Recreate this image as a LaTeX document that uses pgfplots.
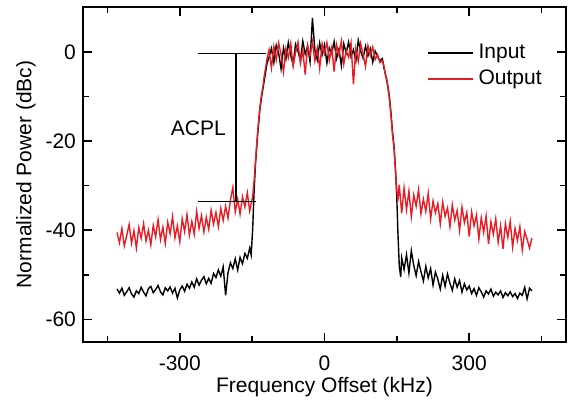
\documentclass[border=0pt]{standalone}
\usepackage{fontspec}
\setmainfont{Liberation Sans}
\usepackage{pgfplots}
\pgfplotsset{compat=1.18}
\definecolor{outred}{RGB}{232,28,36}

\begin{document}
\fontsize{10.5}{12.6}\selectfont
\begin{tikzpicture}
\begin{axis}[
  scale only axis,
  width=241.2pt, height=167.2pt,
  xmin=-500, xmax=500, ymin=-65, ymax=10,
  xtick={-300,0,300}, minor xtick={-450,-150,150,450},
  ytick={-60,-40,-20,0}, minor ytick={-50,-30,-10},
  tick align=inside, major tick length=4.5pt, minor tick length=3pt,
  tick style={line width=0.8pt, black},
  axis line style={line width=0.9pt},
  /pgf/number format/assume math mode=true,
  ticklabel style={font=\fontsize{10.5}{12}\selectfont},
  xticklabel style={yshift=-3.3pt},
  xlabel={Frequency Offset (kHz)},
  ylabel={Normalized Power (dBc)},
  label style={font=\fontsize{10.5}{12}\selectfont},
  xlabel style={at={(axis description cs:0.5,-0.1346)}, anchor=center},
  ylabel style={at={(axis description cs:-0.1188,0.5)}, anchor=center},
  legend style={at={(axis description cs:0.712,0.824)}, anchor=west,
    draw=none, fill=none, inner sep=0pt, row sep=2pt, column sep=2.5pt,
    nodes={inner sep=0pt, text height=8pt, text depth=3pt},
    font=\fontsize{10.5}{12}\selectfont},
  legend cell align=left,
  legend image code/.code={\draw[#1] (0pt,0pt) -- (22.5pt,0pt);},
]
% Input
\addplot[black, line width=0.7pt] coordinates {
(-430,-53.2) (-425,-54.1) (-420,-53.0) (-415,-54.6) (-410,-53.8) (-405,-52.9) (-400,-54.3) (-395,-55.0)
(-390,-53.6) (-385,-54.2) (-380,-52.8) (-375,-53.9) (-370,-54.7) (-365,-53.1) (-360,-52.6) (-355,-54.0)
(-350,-53.3) (-345,-52.4) (-340,-53.8) (-335,-54.5) (-330,-52.9) (-325,-53.6) (-320,-52.7) (-315,-54.1)
(-310,-53.0) (-305,-55.2) (-300,-53.4) (-295,-52.5) (-290,-53.7) (-285,-52.1) (-280,-53.0) (-275,-51.6)
(-270,-52.8) (-265,-50.9) (-260,-52.3) (-255,-51.2) (-250,-50.4) (-245,-52.0) (-240,-50.8) (-235,-51.9)
(-230,-49.7) (-225,-50.6) (-220,-48.9) (-215,-50.3) (-210,-48.2) (-205,-54.6) (-200,-49.5) (-195,-47.3)
(-190,-48.6) (-185,-46.4) (-180,-48.9) (-175,-46.1) (-170,-47.5) (-165,-45.2) (-160,-46.3) (-155,-44.0)
(-152,-45.5) (-149,-40.0) (-146,-31.5) (-143,-25.0) (-140,-20.5) (-137,-16.5) (-134,-13.0) (-131,-10.5)
(-128,-8.5) (-125,-6.5) (-122,-4.5) (-119,-2.5)
(-115,-1.2) (-110,0.8) (-105,-2.4) (-100,1.5) (-95,-0.3) (-90,-3.8) (-85,0.9) (-80,-1.6)
(-75,2.1) (-70,-0.8) (-65,-2.9) (-60,1.7) (-55,0.2) (-50,-1.9) (-45,2.4) (-40,-0.5)
(-35,1.2) (-30,-2.2) (-25,7.6) (-20,0.4) (-15,-1.8) (-10,2.0) (-5,-0.7) (0,1.6)
(5,-2.5) (10,0.9) (15,-0.4) (20,2.3) (25,-1.5) (30,0.6) (35,-3.1) (40,1.8)
(45,-0.2) (50,2.2) (55,-1.1) (60,0.5) (65,-2.0) (70,2.6) (75,0.1) (80,-1.4)
(85,1.3) (90,-0.9) (95,0.7) (100,-2.3) (105,0.2) (110,-1.0) (115,-2.0)
(120,-1.5) (123,-3.5) (126,-4.8) (129,-6.5) (132,-8.0) (135,-10.5) (138,-14.0) (141,-18.0)
(144,-21.0) (147,-26.0) (150,-33.0) (152,-40.0) (155,-48.0) (158,-50.5)
(160,-46.2) (165,-48.8) (170,-45.5) (175,-49.6) (180,-44.6) (185,-47.9) (190,-50.2) (195,-47.0)
(200,-49.3) (205,-51.4) (210,-48.1) (215,-50.7) (220,-48.6) (225,-52.3) (230,-49.4) (235,-51.0)
(240,-53.2) (245,-50.1) (250,-52.6) (255,-49.8) (260,-51.9) (265,-53.5) (270,-50.9) (275,-52.8)
(280,-51.3) (285,-53.9) (290,-52.0) (295,-53.4) (300,-52.5) (305,-54.2) (310,-53.1) (315,-54.6)
(320,-52.9) (325,-53.8) (330,-55.0) (335,-53.6) (340,-54.3) (345,-53.2) (350,-54.8) (355,-53.9)
(360,-54.5) (365,-53.6) (370,-55.1) (375,-54.0) (380,-54.7) (385,-53.8) (390,-54.9) (395,-54.2)
(400,-55.3) (405,-54.1) (410,-54.6) (415,-52.8) (420,-55.4) (425,-53.0) (430,-53.6)
};
\addlegendentry{Input}
% Output
\addplot[outred, line width=0.7pt] coordinates {
(-430,-40.5) (-425,-42.8) (-420,-39.6) (-415,-43.5) (-410,-41.2) (-405,-38.7) (-400,-42.9) (-395,-40.1)
(-390,-44.0) (-385,-39.4) (-380,-41.8) (-375,-38.5) (-370,-42.4) (-365,-40.0) (-360,-43.3) (-355,-38.9)
(-350,-41.5) (-345,-37.6) (-340,-42.1) (-335,-39.3) (-330,-43.0) (-325,-38.2) (-320,-40.8) (-315,-36.9)
(-310,-41.7) (-305,-39.0) (-300,-42.6) (-295,-37.4) (-290,-40.3) (-285,-36.5) (-280,-41.1) (-275,-38.0)
(-270,-40.9) (-265,-35.8) (-260,-39.6) (-255,-36.7) (-250,-40.4) (-245,-37.1) (-240,-39.8) (-235,-35.5)
(-230,-38.6) (-225,-36.0) (-220,-39.2) (-215,-35.1) (-210,-37.8) (-205,-34.6) (-200,-37.3) (-195,-33.2)
(-190,-30.4) (-185,-35.9) (-180,-33.0) (-175,-36.4) (-170,-32.5) (-165,-34.8) (-160,-31.6) (-155,-35.7)
(-152,-34.0) (-149,-32.5) (-146,-29.0) (-143,-24.5) (-140,-20.0) (-137,-16.0) (-134,-12.5) (-131,-10.0)
(-128,-8.0) (-125,-5.5) (-122,-3.5) (-119,-1.5)
(-115,0.5) (-110,-3.6) (-105,1.2) (-100,-1.8) (-95,2.0) (-90,-0.6) (-85,-4.5) (-80,0.8)
(-75,-1.3) (-70,1.9) (-65,-3.2) (-60,-0.2) (-55,2.2) (-50,-2.6) (-45,0.4) (-40,-5.1)
(-35,1.5) (-30,-0.9) (-25,2.3) (-20,-2.0) (-15,0.9) (-10,-3.7) (-5,1.8) (0,-0.4)
(5,2.1) (10,-1.9) (15,1.0) (20,-4.4) (25,1.6) (30,-0.7) (35,2.4) (40,-2.7)
(45,0.3) (50,-1.2) (55,2.0) (60,-7.3) (65,0.8) (70,-2.1) (75,1.9) (80,-0.5)
(85,-3.3) (90,1.4) (95,-0.8) (100,1.1) (105,-1.7) (110,-0.6) (115,-2.4)
(120,-2.0) (123,-3.0) (126,-5.0) (129,-6.0) (132,-8.5) (135,-11.0) (138,-14.5) (141,-18.5)
(144,-21.5) (147,-26.5) (150,-31.0)
(152,-33.5) (155,-29.8) (160,-36.2) (165,-30.5) (170,-35.4) (175,-31.2) (180,-37.0) (185,-32.1)
(190,-34.6) (195,-30.9) (200,-36.3) (205,-33.0) (210,-35.8) (215,-31.7) (220,-37.5) (225,-33.4)
(230,-36.1) (235,-34.0) (240,-38.6) (245,-33.7) (250,-36.9) (255,-35.0) (260,-39.2) (265,-34.3)
(270,-37.7) (275,-35.6) (280,-40.1) (285,-34.8) (290,-38.3) (295,-36.0) (300,-41.4) (305,-35.9)
(310,-39.0) (315,-36.6) (320,-42.0) (325,-37.2) (330,-40.5) (335,-36.8) (340,-43.1) (345,-38.1)
(350,-40.9) (355,-37.4) (360,-42.7) (365,-39.0) (370,-44.2) (375,-38.5) (380,-41.6) (385,-38.0)
(390,-43.8) (395,-39.6) (400,-42.3) (405,-39.2) (410,-44.5) (415,-40.3) (420,-42.0) (425,-44.0)
(430,-41.8)
};
\addlegendentry{Output}
% ACPL marker
\draw[line width=0.6pt] (axis cs:-263,-0.4) -- (axis cs:-121,-0.4);
\draw[line width=0.6pt] (axis cs:-263,-33.6) -- (axis cs:-142,-33.6);
\draw[line width=0.6pt] (axis cs:-183.5,-0.4) -- (axis cs:-183.5,-33.6);
\node at (axis cs:-261.6,-17.2) {ACPL};
\end{axis}
\pgfresetboundingbox
\path[use as bounding box] (-41.65pt,-30.65pt) rectangle (244.85pt,170.85pt);
\end{tikzpicture}
\end{document}
